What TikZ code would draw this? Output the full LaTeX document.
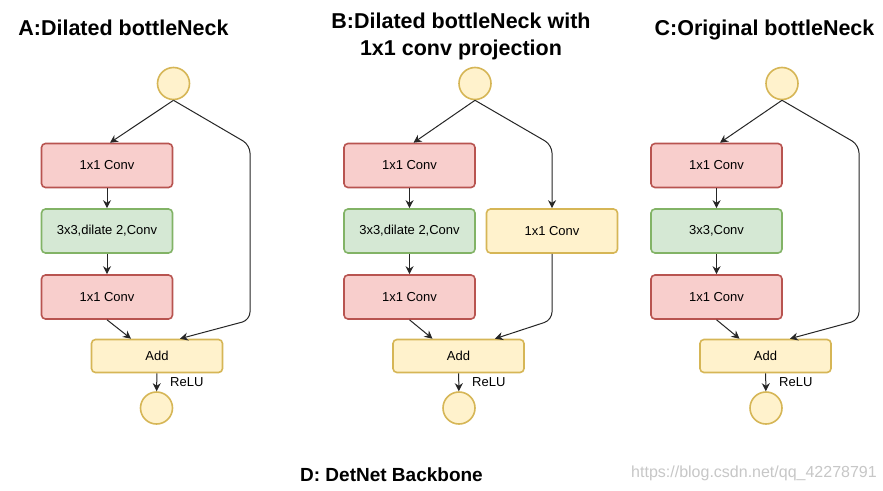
\documentclass[tikz,border=0pt]{standalone}
\usepackage{fontspec}
\setmainfont{Liberation Sans}
\usetikzlibrary{arrows.meta}
\definecolor{redfill}{HTML}{F8CECC}
\definecolor{redline}{HTML}{B85450}
\definecolor{greenfill}{HTML}{D5E8D4}
\definecolor{greenline}{HTML}{82B366}
\definecolor{yelfill}{HTML}{FFF2CC}
\definecolor{yelline}{HTML}{D6B656}
\begin{document}
\begin{tikzpicture}[x=1pt,y=-1pt,
 box/.style={rectangle, rounded corners=4pt, line width=1.6pt, minimum width=131pt, minimum height=44pt, inner sep=0pt, font=\fontsize{13}{15}\selectfont},
 redbox/.style={box, draw=redline, fill=redfill},
 greenbox/.style={box, draw=greenline, fill=greenfill},
 yelbox/.style={box, draw=yelline, fill=yelfill},
 addbox/.style={yelbox, minimum height=33pt},
 io/.style={circle, draw=yelline, fill=yelfill, line width=1.6pt, minimum size=32pt, inner sep=0pt},
 conn/.style={draw=black!85, line width=1pt, -{Stealth[length=8pt,width=8pt]}},
 skip/.style={conn, rounded corners=8pt},
 title/.style={anchor=base, inner sep=0pt, font=\fontsize{21.5}{25}\selectfont\bfseries},
 lbl/.style={anchor=west, inner sep=0pt, font=\fontsize{13}{15}\selectfont},
]
\fill[white] (0,0) rectangle (883,490);
\useasboundingbox (0,0) rectangle (883,490);

% titles
\node[title] (tA) at (123.5,35) {A:Dilated bottleNeck};
\node[title] (tB1) at (461,28) {B:Dilated bottleNeck with};
\node[title] (tB2) at (461,55) {1x1 conv projection};
\node[title] (tC) at (764.5,35) {C:Original bottleNeck};
\node[anchor=base, inner sep=0pt, font=\fontsize{19}{23}\selectfont\bfseries] (tD) at (391.5,481) {D: DetNet Backbone};
\node[anchor=base, inner sep=0pt, text=black!22, font=\fontsize{16}{19}\selectfont] (wm) at (754,477) {https://blog.csdn.net/qq\_42278791};

% column A
\node[io] (inA) at (173.5,83.5) {};
\node[redbox] (a1) at (107,165.5) {1x1 Conv};
\node[greenbox] (a2) at (107,231) {3x3,dilate 2,Conv};
\node[redbox] (a3) at (107,297) {1x1 Conv};
\node[addbox] (addA) at (157,356) {Add};
\node[io] (outA) at (156.5,408) {};
\node[lbl] (rA) at (170,382) {ReLU};
\coordinate (sA1) at (250,145);
\coordinate (sA2) at (250,320);
\draw[conn] (inA.south) -- ([xshift=3pt]a1.north);
\draw[conn] (a1) -- (a2);
\draw[conn] (a2) -- (a3);
\draw[conn] (a3.south) -- ([xshift=-26pt]addA.north);
\draw[skip] (inA.south) -- (sA1) -- (sA2) -- ([xshift=23pt]addA.north);
\draw[conn] (addA) -- (outA);

% column B
\node[io] (inB) at (475,83.5) {};
\node[redbox] (b1) at (409.5,165.5) {1x1 Conv};
\node[greenbox] (b2) at (409.5,231) {3x3,dilate 2,Conv};
\node[yelbox] (bp) at (552,231) {1x1 Conv};
\node[redbox] (b3) at (409.5,297) {1x1 Conv};
\node[addbox] (addB) at (458.5,356) {Add};
\node[io] (outB) at (459,408) {};
\node[lbl] (rB) at (472,382) {ReLU};
\coordinate (sB1) at (552,145);
\coordinate (sB2) at (552,320);
\draw[conn] (inB.south) -- ([xshift=4pt]b1.north);
\draw[conn] (b1) -- (b2);
\draw[conn] (b2) -- (b3);
\draw[conn] (b3.south) -- ([xshift=-26pt]addB.north);
\draw[skip] (inB.south) -- (sB1) -- (bp.north);
\draw[skip] (bp.south) -- (sB2) -- ([xshift=36.5pt]addB.north);
\draw[conn] (addB) -- (outB);

% column C
\node[io] (inC) at (782,83.5) {};
\node[redbox] (c1) at (716.5,165.5) {1x1 Conv};
\node[greenbox] (c2) at (716.5,231) {3x3,Conv};
\node[redbox] (c3) at (716.5,297) {1x1 Conv};
\node[addbox] (addC) at (765.5,356) {Add};
\node[io] (outC) at (766,408) {};
\node[lbl] (rC) at (779,382) {ReLU};
\coordinate (sC1) at (859,145);
\coordinate (sC2) at (859,320);
\draw[conn] (inC.south) -- ([xshift=3.5pt]c1.north);
\draw[conn] (c1) -- (c2);
\draw[conn] (c2) -- (c3);
\draw[conn] (c3.south) -- ([xshift=-26pt]addC.north);
\draw[skip] (inC.south) -- (sC1) -- (sC2) -- ([xshift=24.5pt]addC.north);
\draw[conn] (addC) -- (outC);
\end{tikzpicture}
\end{document}
